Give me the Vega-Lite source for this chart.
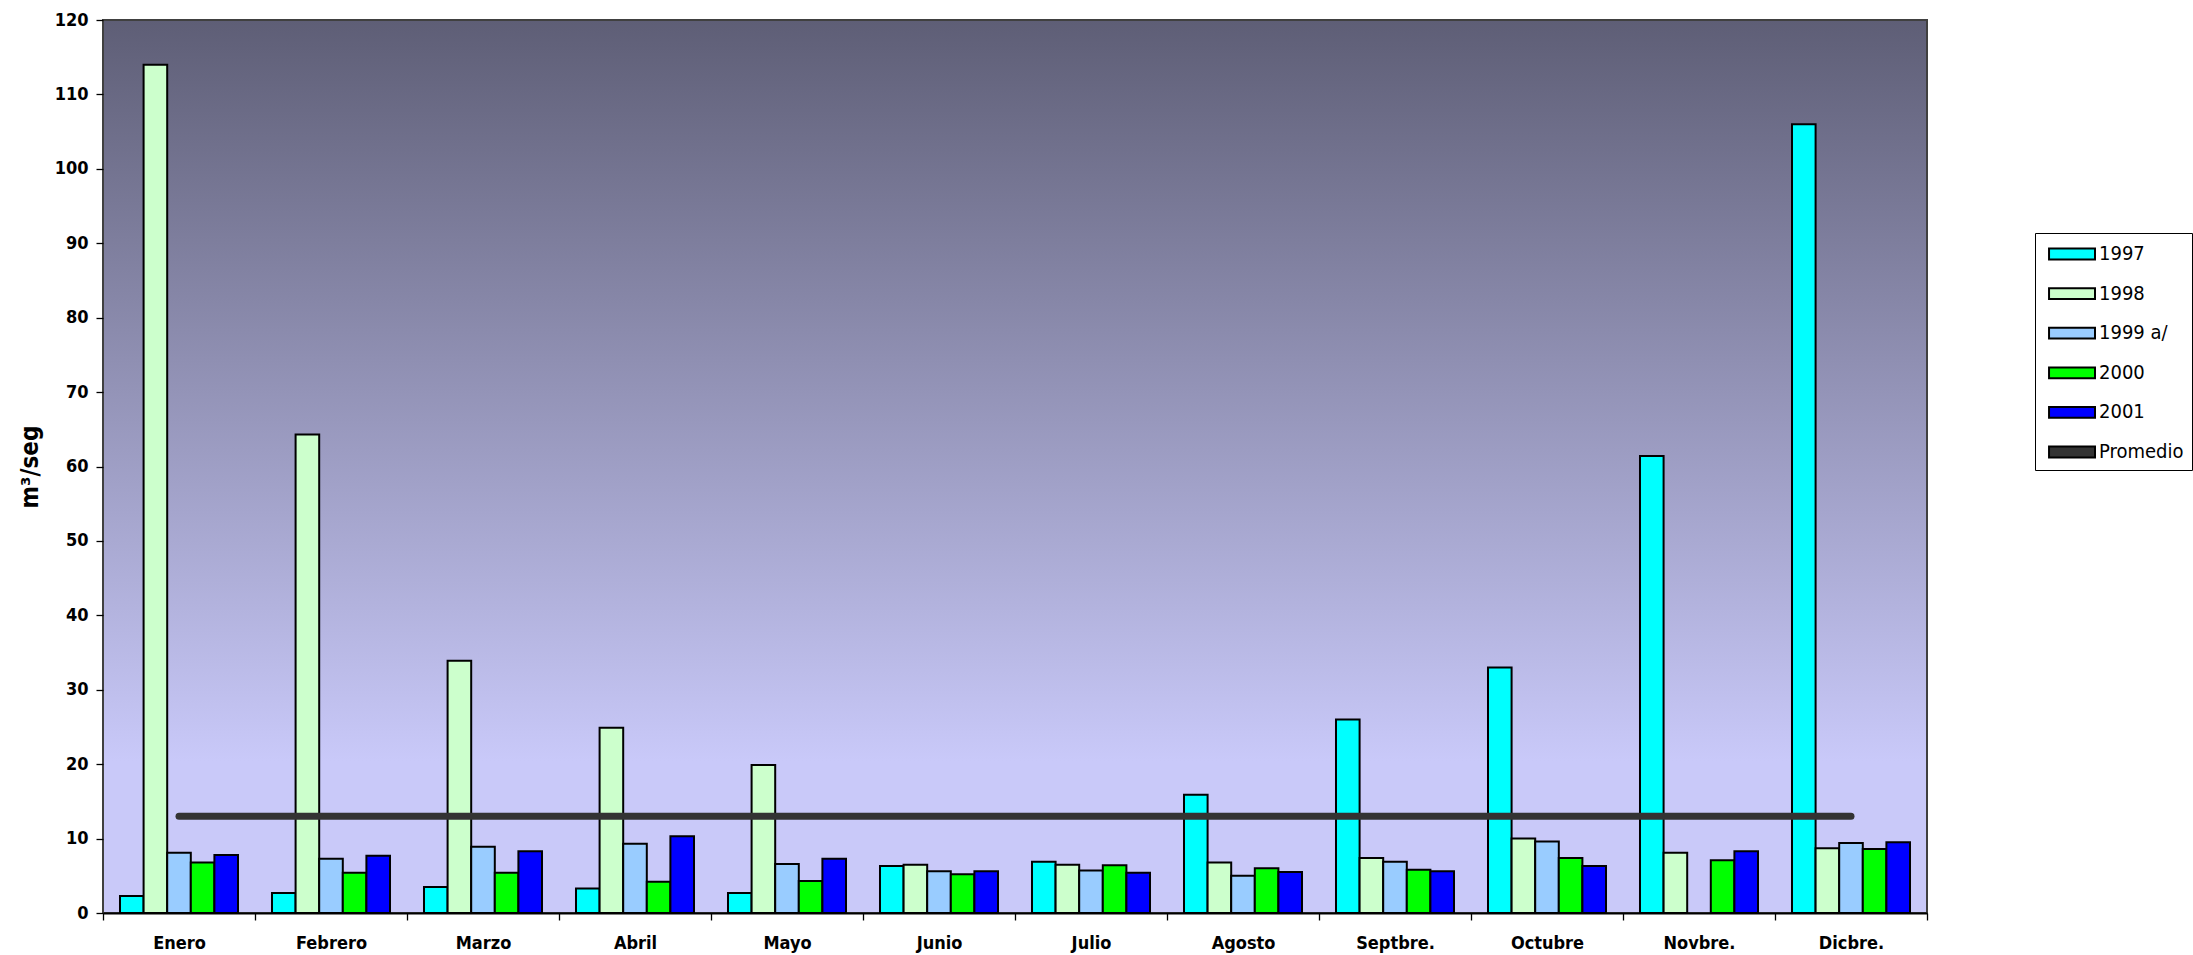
{
  "$schema": "https://vega.github.io/schema/vega-lite/v6.json",
  "width": 1824,
  "height": 893,
  "autosize": {"type": "none"},
  "padding": {"left": 103, "top": 20, "right": 266, "bottom": 42},
  "background": "white",
  "config": {
    "font": "Liberation Sans Narrow, DejaVu Sans Condensed, Liberation Sans, sans-serif",
    "view": {
      "stroke": "#404040",
      "strokeWidth": 2,
      "fill": {
        "gradient": "linear",
        "x1": 0, "y1": 0, "x2": 0, "y2": 1,
        "stops": [
          {"offset": 0, "color": "#5e5e76"},
          {"offset": 0.83, "color": "#c9c9f9"},
          {"offset": 1, "color": "#c9c9f9"}
        ]
      }
    },
    "axis": {
      "labelFont": "Liberation Sans Narrow, DejaVu Sans Condensed, Liberation Sans, sans-serif",
      "titleFont": "Liberation Sans Narrow, DejaVu Sans Condensed, Liberation Sans, sans-serif",
      "labelColor": "black",
      "titleColor": "black",
      "tickColor": "black",
      "grid": false
    }
  },
  "datasets": {
    "bars": [
      {"mes": "Enero", "serie": "1997", "valor": 2.3},
      {"mes": "Enero", "serie": "1998", "valor": 114.0},
      {"mes": "Enero", "serie": "1999 a/", "valor": 8.1},
      {"mes": "Enero", "serie": "2000", "valor": 6.8},
      {"mes": "Enero", "serie": "2001", "valor": 7.8},
      {"mes": "Febrero", "serie": "1997", "valor": 2.7},
      {"mes": "Febrero", "serie": "1998", "valor": 64.3},
      {"mes": "Febrero", "serie": "1999 a/", "valor": 7.3},
      {"mes": "Febrero", "serie": "2000", "valor": 5.4},
      {"mes": "Febrero", "serie": "2001", "valor": 7.7},
      {"mes": "Marzo", "serie": "1997", "valor": 3.5},
      {"mes": "Marzo", "serie": "1998", "valor": 33.9},
      {"mes": "Marzo", "serie": "1999 a/", "valor": 8.9},
      {"mes": "Marzo", "serie": "2000", "valor": 5.4},
      {"mes": "Marzo", "serie": "2001", "valor": 8.3},
      {"mes": "Abril", "serie": "1997", "valor": 3.3},
      {"mes": "Abril", "serie": "1998", "valor": 24.9},
      {"mes": "Abril", "serie": "1999 a/", "valor": 9.3},
      {"mes": "Abril", "serie": "2000", "valor": 4.2},
      {"mes": "Abril", "serie": "2001", "valor": 10.3},
      {"mes": "Mayo", "serie": "1997", "valor": 2.7},
      {"mes": "Mayo", "serie": "1998", "valor": 19.9},
      {"mes": "Mayo", "serie": "1999 a/", "valor": 6.6},
      {"mes": "Mayo", "serie": "2000", "valor": 4.3},
      {"mes": "Mayo", "serie": "2001", "valor": 7.3},
      {"mes": "Junio", "serie": "1997", "valor": 6.3},
      {"mes": "Junio", "serie": "1998", "valor": 6.5},
      {"mes": "Junio", "serie": "1999 a/", "valor": 5.6},
      {"mes": "Junio", "serie": "2000", "valor": 5.2},
      {"mes": "Junio", "serie": "2001", "valor": 5.6},
      {"mes": "Julio", "serie": "1997", "valor": 6.9},
      {"mes": "Julio", "serie": "1998", "valor": 6.5},
      {"mes": "Julio", "serie": "1999 a/", "valor": 5.7},
      {"mes": "Julio", "serie": "2000", "valor": 6.4},
      {"mes": "Julio", "serie": "2001", "valor": 5.4},
      {"mes": "Agosto", "serie": "1997", "valor": 15.9},
      {"mes": "Agosto", "serie": "1998", "valor": 6.8},
      {"mes": "Agosto", "serie": "1999 a/", "valor": 5.0},
      {"mes": "Agosto", "serie": "2000", "valor": 6.0},
      {"mes": "Agosto", "serie": "2001", "valor": 5.5},
      {"mes": "Septbre.", "serie": "1997", "valor": 26.0},
      {"mes": "Septbre.", "serie": "1998", "valor": 7.4},
      {"mes": "Septbre.", "serie": "1999 a/", "valor": 6.9},
      {"mes": "Septbre.", "serie": "2000", "valor": 5.8},
      {"mes": "Septbre.", "serie": "2001", "valor": 5.6},
      {"mes": "Octubre", "serie": "1997", "valor": 33.0},
      {"mes": "Octubre", "serie": "1998", "valor": 10.0},
      {"mes": "Octubre", "serie": "1999 a/", "valor": 9.6},
      {"mes": "Octubre", "serie": "2000", "valor": 7.4},
      {"mes": "Octubre", "serie": "2001", "valor": 6.3},
      {"mes": "Novbre.", "serie": "1997", "valor": 61.4},
      {"mes": "Novbre.", "serie": "1998", "valor": 8.1},
      {"mes": "Novbre.", "serie": "2000", "valor": 7.1},
      {"mes": "Novbre.", "serie": "2001", "valor": 8.3},
      {"mes": "Dicbre.", "serie": "1997", "valor": 106.0},
      {"mes": "Dicbre.", "serie": "1998", "valor": 8.7},
      {"mes": "Dicbre.", "serie": "1999 a/", "valor": 9.4},
      {"mes": "Dicbre.", "serie": "2000", "valor": 8.6},
      {"mes": "Dicbre.", "serie": "2001", "valor": 9.5}
    ],
    "avg": [
      {"mes": "Enero", "valor": 13},
      {"mes": "Febrero", "valor": 13},
      {"mes": "Marzo", "valor": 13},
      {"mes": "Abril", "valor": 13},
      {"mes": "Mayo", "valor": 13},
      {"mes": "Junio", "valor": 13},
      {"mes": "Julio", "valor": 13},
      {"mes": "Agosto", "valor": 13},
      {"mes": "Septbre.", "valor": 13},
      {"mes": "Octubre", "valor": 13},
      {"mes": "Novbre.", "valor": 13},
      {"mes": "Dicbre.", "valor": 13}
    ]
  },
  "layer": [
    {
      "data": {"name": "bars"},
      "mark": {"type": "bar", "stroke": "black", "strokeWidth": 2},
      "encoding": {
        "x": {
          "field": "mes",
          "type": "nominal",
          "sort": ["Enero", "Febrero", "Marzo", "Abril", "Mayo", "Junio", "Julio", "Agosto", "Septbre.", "Octubre", "Novbre.", "Dicbre."],
          "scale": {"paddingInner": 0, "paddingOuter": 0},
          "axis": {
            "title": null,
            "labelAngle": 0,
            "labelFontSize": 18,
            "labelFontWeight": "bold",
            "labelPadding": 14,
            "tickBand": "extent",
            "tickSize": 7,
            "tickWidth": 1.3,
            "domainColor": "black",
            "domainWidth": 2
          }
        },
        "xOffset": {
          "field": "serie",
          "type": "nominal",
          "sort": ["1997", "1998", "1999 a/", "2000", "2001"],
          "scale": {"paddingInner": 0, "paddingOuter": 0.72}
        },
        "y": {
          "field": "valor",
          "type": "quantitative",
          "scale": {"domain": [0, 120], "nice": false, "zero": true},
          "axis": {
            "title": "m³/seg",
            "titleFontSize": 24,
            "titleFontWeight": "bold",
            "titlePadding": 12,
            "values": [0, 10, 20, 30, 40, 50, 60, 70, 80, 90, 100, 110, 120],
            "labelFontSize": 18,
            "labelFontWeight": "bold",
            "labelPadding": 8,
            "tickSize": 7,
            "tickWidth": 1.3,
            "domain": false
          }
        },
        "color": {
          "field": "serie",
          "type": "nominal",
          "scale": {
            "domain": ["1997", "1998", "1999 a/", "2000", "2001", "Promedio"],
            "range": ["#00ffff", "#ccffcc", "#99ccff", "#00ff00", "#0000ff", "#333333"]
          },
          "legend": {
            "title": null,
            "orient": "none",
            "legendX": 1932,
            "legendY": 213,
            "padding": 8,
            "strokeColor": "black",
            "fillColor": "white",
            "symbolSize": 576,
            "symbolType": "M-0.58,-0.45H3.25V0.45H-0.58Z",
            "symbolStrokeColor": "black",
            "symbolStrokeWidth": 2,
            "symbolOpacity": 1,
            "rowPadding": 16.6,
            "labelOffset": 30,
            "labelFontSize": 20,
            "labelFont": "Liberation Sans Narrow, DejaVu Sans Condensed, Liberation Sans, sans-serif",
            "labelColor": "black"
          }
        }
      }
    },
    {
      "data": {"name": "avg"},
      "mark": {"type": "line", "strokeWidth": 7, "strokeCap": "round", "color": "#333333"},
      "encoding": {
        "x": {
          "field": "mes",
          "type": "nominal",
          "sort": ["Enero", "Febrero", "Marzo", "Abril", "Mayo", "Junio", "Julio", "Agosto", "Septbre.", "Octubre", "Novbre.", "Dicbre."]
        },
        "y": {"field": "valor", "type": "quantitative"}
      }
    }
  ]
}
